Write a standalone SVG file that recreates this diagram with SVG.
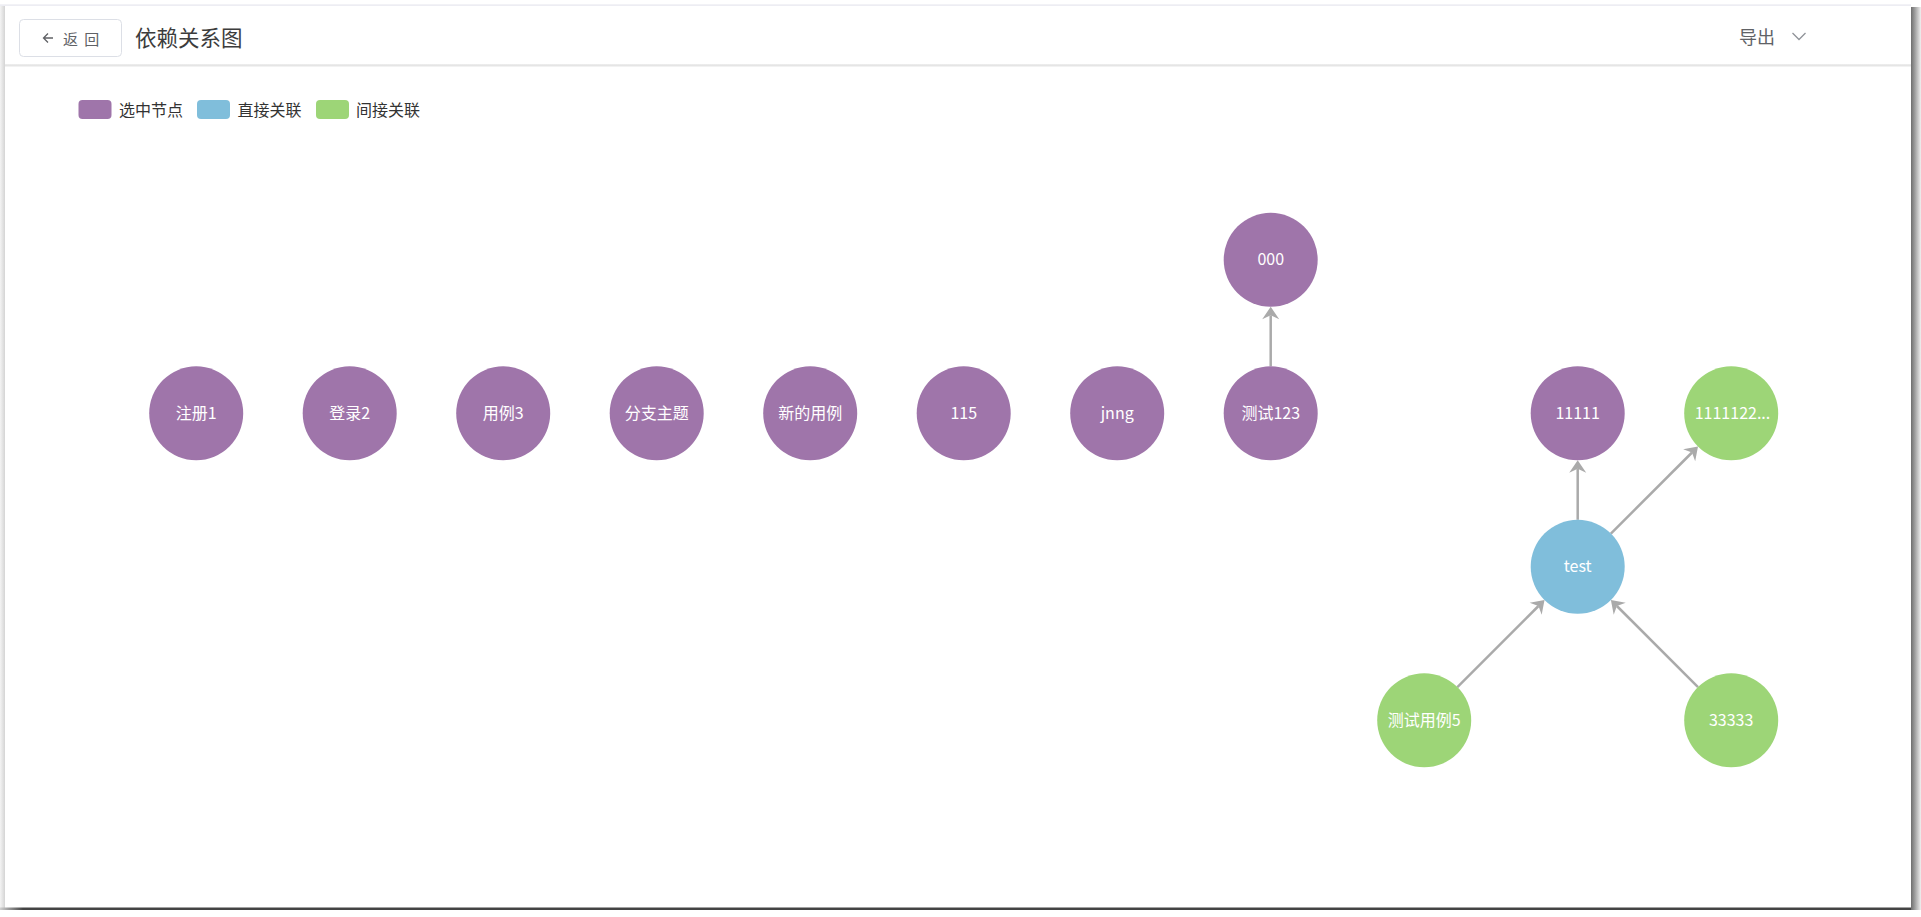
<svg xmlns="http://www.w3.org/2000/svg" width="1921" height="917" viewBox="0 0 1921 917">
<defs>
<style>
.node circle{stroke:none}
.p{fill:#9f75aa}
.b{fill:#80bedb}
.g{fill:#9dd577}
.lbl{font-family:"Noto Sans CJK SC","Noto Sans",sans-serif;font-size:16px;fill:#ffffff;text-anchor:middle;dominant-baseline:central}
.edge{stroke:#aaaaaa;stroke-width:2.5;fill:none;marker-end:url(#arr)}
.ui{font-family:"Noto Sans CJK SC","Noto Sans",sans-serif;dominant-baseline:central}
</style>
<marker id="arr" markerUnits="userSpaceOnUse" viewBox="-13 -9 14 18" markerWidth="14" markerHeight="18" refX="-8.5" refY="0" orient="auto">
<path d="M0,0 L-12.5,-8.5 L-8.5,0 L-12.5,8.5 Z" fill="#aaaaaa"/>
</marker>
<linearGradient id="rsh" x1="0" y1="0" x2="1" y2="0">
<stop offset="0" stop-color="#6e6e6e"/>
<stop offset="0.4" stop-color="#a0a0a0"/>
<stop offset="1" stop-color="#f0f0f0"/>
</linearGradient>
<linearGradient id="lsh" x1="0" y1="0" x2="1" y2="0">
<stop offset="0" stop-color="#f4f4f4"/>
<stop offset="1" stop-color="#d4d4d4"/>
</linearGradient>
<linearGradient id="bsh" x1="0" y1="0" x2="1" y2="0">
<stop offset="0" stop-color="#d0d0d0"/>
<stop offset="0.012" stop-color="#444444"/>
<stop offset="1" stop-color="#444444"/>
</linearGradient>
<linearGradient id="hsh" x1="0" y1="0" x2="0" y2="1">
<stop offset="0" stop-color="#d8d8d8"/>
<stop offset="1" stop-color="#ffffff"/>
</linearGradient>
</defs>

<g id="frame">
<rect x="0" y="0" width="1921" height="917" fill="#ffffff"/>
<rect x="0" y="4.5" width="1911" height="1.2" fill="#e6e6ee"/>
<rect x="0" y="6" width="5" height="904" fill="url(#lsh)"/>
<rect x="1911" y="7" width="10" height="903" fill="url(#rsh)"/>
<rect x="0" y="907.5" width="1911" height="2.5" fill="url(#bsh)"/>
<rect x="5" y="64.5" width="1906" height="3" fill="url(#hsh)"/>
</g>

<g id="header">
<rect x="19.5" y="19.5" width="102" height="37" rx="4" fill="#ffffff" stroke="#dcdfe6" stroke-width="1"/>
<path d="M53,38 H43.5 M48,33.5 L43.5,38 L48,42.5" stroke="#606266" stroke-width="1.3" fill="none"/>
<text class="ui" x="63" y="38" font-size="15" fill="#606266" letter-spacing="1.5">返 回</text>
<text class="ui" x="135" y="36.5" font-size="21.5" fill="#3c3c3c">依赖关系图</text>
<text class="ui" x="1739" y="36" font-size="18" fill="#606266">导出</text>
<path d="M1792.5,33 L1799,39.5 L1805.5,33" stroke="#909399" stroke-width="1.3" fill="none"/>
</g>

<g id="legend">
<rect x="78.5" y="100" width="33" height="19" rx="4" class="p"/>
<text class="ui" x="119" y="109" font-size="16" fill="#333333">选中节点</text>
<rect x="197" y="100" width="33" height="19" rx="4" class="b"/>
<text class="ui" x="237.5" y="109" font-size="16" fill="#333333">直接关联</text>
<rect x="316" y="100" width="33" height="19" rx="4" class="g"/>
<text class="ui" x="356" y="109" font-size="16" fill="#333333">间接关联</text>
</g>

<g id="connectors">
<line class="edge" x1="1270.7" y1="366.3" x2="1270.7" y2="315.3"/>
<line class="edge" x1="1577.7" y1="519.8" x2="1577.7" y2="468.8"/>
<line class="edge" x1="1610.9" y1="533.6" x2="1692" y2="452.5"/>
<line class="edge" x1="1457.4" y1="687.1" x2="1538.5" y2="606"/>
<line class="edge" x1="1698" y1="687.1" x2="1616.9" y2="606"/>
</g>

<g id="n-zhuce1" class="node"><circle cx="196.2" cy="413.3" r="47" class="p"/><text class="lbl" x="196.2" y="411.8">注册1</text></g>
<g id="n-denglu2" class="node"><circle cx="349.7" cy="413.3" r="47" class="p"/><text class="lbl" x="349.7" y="411.8">登录2</text></g>
<g id="n-yongli3" class="node"><circle cx="503.2" cy="413.3" r="47" class="p"/><text class="lbl" x="503.2" y="411.8">用例3</text></g>
<g id="n-fenzhi" class="node"><circle cx="656.7" cy="413.3" r="47" class="p"/><text class="lbl" x="656.7" y="411.8">分支主题</text></g>
<g id="n-xinde" class="node"><circle cx="810.2" cy="413.3" r="47" class="p"/><text class="lbl" x="810.2" y="411.8">新的用例</text></g>
<g id="n-115" class="node"><circle cx="963.7" cy="413.3" r="47" class="p"/><text class="lbl" x="963.7" y="411.8">115</text></g>
<g id="n-jnng" class="node"><circle cx="1117.2" cy="413.3" r="47" class="p"/><text class="lbl" x="1117.2" y="411.8">jnng</text></g>
<g id="n-ceshi123" class="node"><circle cx="1270.7" cy="413.3" r="47" class="p"/><text class="lbl" x="1270.7" y="411.8">测试123</text></g>
<g id="n-000" class="node"><circle cx="1270.7" cy="259.8" r="47" class="p"/><text class="lbl" x="1270.7" y="258.3">000</text></g>
<g id="n-11111" class="node"><circle cx="1577.7" cy="413.3" r="47" class="p"/><text class="lbl" x="1577.7" y="411.8">11111</text></g>
<g id="n-1111122" class="node"><circle cx="1731.2" cy="413.3" r="47" class="g"/><text class="lbl" x="1732.5" y="411.8">1111122...</text></g>
<g id="n-test" class="node"><circle cx="1577.7" cy="566.8" r="47" class="b"/><text class="lbl" x="1577.7" y="565.3">test</text></g>
<g id="n-ceshiyongli5" class="node"><circle cx="1424.2" cy="720.3" r="47" class="g"/><text class="lbl" x="1424.2" y="718.8">测试用例5</text></g>
<g id="n-33333" class="node"><circle cx="1731.2" cy="720.3" r="47" class="g"/><text class="lbl" x="1731.2" y="718.8">33333</text></g>
</svg>
